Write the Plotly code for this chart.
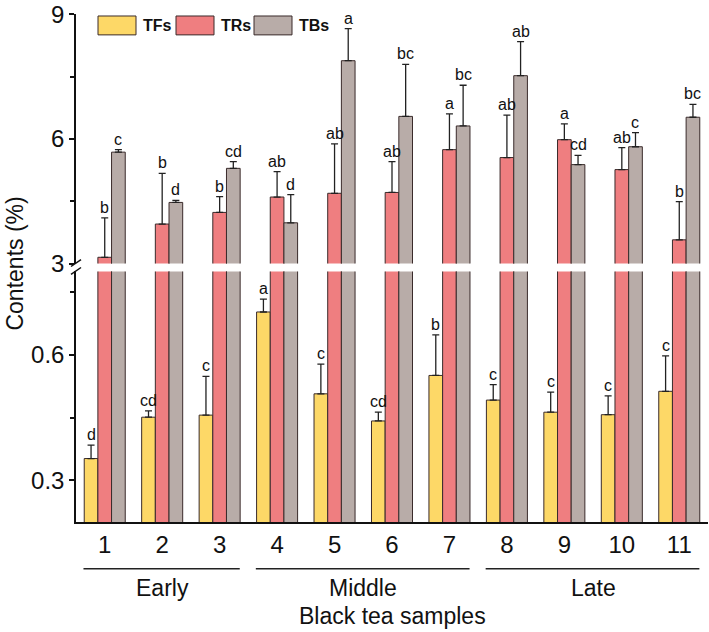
import plotly.graph_objects as go

# ---------------- data ----------------
samples = [1, 2, 3, 4, 5, 6, 7, 8, 9, 10, 11]
tick_labels = ["1", "2", "3", "4", "5", "6", "7", "8", "9", "10", "11"]

tfs = [0.352, 0.451, 0.456, 0.703, 0.507, 0.442, 0.551, 0.492, 0.463, 0.457, 0.513]
tfs_err = [0.032, 0.015, 0.093, 0.031, 0.071, 0.021, 0.097, 0.037, 0.048, 0.045, 0.085]
tfs_sig = ["d", "cd", "c", "a", "c", "cd", "b", "c", "c", "c", "c"]

trs = [3.15, 3.95, 4.23, 4.60, 4.69, 4.71, 5.74, 5.55, 5.98, 5.26, 3.57]
trs_err = [0.95, 1.22, 0.38, 0.61, 1.19, 0.74, 0.86, 1.02, 0.38, 0.53, 0.92]
trs_sig = ["b", "b", "b", "ab", "ab", "ab", "a", "ab", "a", "ab", "b"]

tbs = [5.68, 4.47, 5.29, 3.98, 7.88, 6.54, 6.31, 7.52, 5.38, 5.81, 6.52]
tbs_err = [0.06, 0.05, 0.16, 0.68, 0.77, 1.25, 0.98, 0.82, 0.22, 0.34, 0.31]
tbs_sig = ["c", "d", "cd", "d", "a", "bc", "bc", "ab", "cd", "c", "bc"]

series_names = ["TFs", "TRs", "TBs"]
groups = ["Early", "Middle", "Late"]
group_spans = [(1, 3), (4, 7), (8, 11)]
x_title = "Black tea samples"
y_title = "Contents (%)"

# ---------------- style ----------------
colors = ["#FDD867", "#EF7E80", "#B8ACA8"]
outline = "#3a2b2b"
FONT = "Liberation Sans, Arial, Helvetica, sans-serif"
W, H = 709, 632
L, R, T, B = 76, 1, 11, 110
PW, PH = W - L - R, H - T - B
BARGAP = 0.286


def px_x(p):
    return (p - L) / PW


def px_y(p):
    return (H - B - p) / PH


lower_dom = [0, px_y(270)]
upper_dom = [px_y(262), 1]

fig = go.Figure()
vals = [tfs, trs, tbs]
errs = [tfs_err, trs_err, tbs_err]
sigs = [tfs_sig, trs_sig, tbs_sig]

for xa, ya in (("x", "y"), ("x2", "y2")):
    for k in range(3):
        fig.add_trace(go.Bar(
            x=samples, y=vals[k], name=series_names[k],
            xaxis=xa, yaxis=ya, showlegend=False,
            marker=dict(color=colors[k], line=dict(color=outline, width=1)),
            error_y=dict(type="data", symmetric=False, array=errs[k],
                         arrayminus=[0] * len(samples),
                         color="#222222", thickness=1.3, width=3.5),
        ))

annotations = []
shapes = []
bw = (1 - BARGAP) / 3
for k in range(3):
    for i, s in enumerate(samples):
        top = vals[k][i] + errs[k][i]
        xr, yr = ("x", "y") if k == 0 else ("x2", "y2")
        annotations.append(dict(
            x=s + (k - 1) * bw, y=top, xref=xr, yref=yr,
            text=sigs[k][i], showarrow=False, yanchor="bottom",
            font=dict(family=FONT, size=16, color="#111"),
        ))

# group lines and labels below the x axis
for g, (a, b) in zip(groups, group_spans):
    shapes.append(dict(type="line", xref="x", yref="paper",
                       x0=a - 0.37, x1=b + 0.35, y0=px_y(569), y1=px_y(569),
                       line=dict(color="#222", width=1.5)))
    annotations.append(dict(x=(a + b) / 2, y=px_y(588), xref="x", yref="paper",
                            text=g, showarrow=False, yanchor="middle",
                            font=dict(family=FONT, size=23, color="#111")))

annotations.append(dict(x=px_x(392), y=px_y(617), xref="paper", yref="paper",
                        text=x_title, showarrow=False, yanchor="middle",
                        font=dict(family=FONT, size=23, color="#111")))
annotations.append(dict(x=px_x(15), y=px_y(262), xref="paper", yref="paper",
                        text=y_title, showarrow=False, textangle=-90,
                        xanchor="center", yanchor="middle", borderpad=0,
                        font=dict(family=FONT, size=23, color="#111")))

# axis break marks
for y0 in (265, 273):
    shapes.append(dict(type="line", xref="paper", yref="paper",
                       x0=px_x(71), y0=px_y(y0), x1=px_x(81), y1=px_y(y0 - 7),
                       line=dict(color="#111", width=1.5)))

# legend
leg_x = [98, 176, 254]
for k in range(3):
    shapes.append(dict(type="rect", xref="paper", yref="paper",
                       x0=px_x(leg_x[k]), x1=px_x(leg_x[k] + 38),
                       y0=px_y(32), y1=px_y(13),
                       fillcolor=colors[k], line=dict(color=outline, width=1)))
    annotations.append(dict(x=px_x(leg_x[k] + 43), y=px_y(22.5),
                            xref="paper", yref="paper", text="<b>%s</b>" % series_names[k],
                            showarrow=False, xanchor="left", yanchor="middle",
                            font=dict(family=FONT, size=16, color="#111")))

axis_font = dict(family=FONT, size=24, color="#111")
fig.update_layout(
    width=W, height=H,
    margin=dict(l=L, r=R, t=T, b=B),
    paper_bgcolor="white", plot_bgcolor="white",
    barmode="group", bargap=BARGAP, bargroupgap=0,
    shapes=shapes, annotations=annotations,
    xaxis=dict(domain=[0, 1], anchor="y", range=[0.5, 11.5],
               tickvals=samples, ticktext=tick_labels, ticks="",
               showline=True, linecolor="#111", linewidth=1.5,
               showgrid=False, zeroline=False, tickfont=axis_font,
               ticklabeloverflow="allow"),
    xaxis2=dict(domain=[0, 1], anchor="y2", range=[0.5, 11.5], matches="x",
                visible=False, showgrid=False, zeroline=False),
    yaxis=dict(domain=lower_dom, anchor="x", range=[0.2, 0.8],
               tickvals=[0.3, 0.6], ticktext=["0.3", "0.6"],
               ticks="outside", ticklen=5, tickwidth=1.5, tickcolor="#111",
               minor=dict(tickvals=[0.45, 0.75], ticks="outside", ticklen=4,
                          tickwidth=1.5, tickcolor="#111"),
               showline=True, linecolor="#111", linewidth=1.5,
               showgrid=False, zeroline=False, tickfont=axis_font,
               ticklabeloverflow="allow"),
    yaxis2=dict(domain=upper_dom, anchor="x2", range=[3, 9.004],
                tickvals=[3, 6, 9], ticktext=["3", "6", "9"],
                ticks="outside", ticklen=5, tickwidth=1.5, tickcolor="#111",
                minor=dict(tickvals=[4.5, 7.5], ticks="outside", ticklen=4,
                           tickwidth=1.5, tickcolor="#111"),
                showline=True, linecolor="#111", linewidth=1.5,
                showgrid=False, zeroline=False, tickfont=axis_font,
                ticklabeloverflow="allow"),
)

fig.write_html("out.html",
               config={"displayModeBar": False},
               post_script="document.body.style.margin='0';document.body.style.overflow='hidden';")
